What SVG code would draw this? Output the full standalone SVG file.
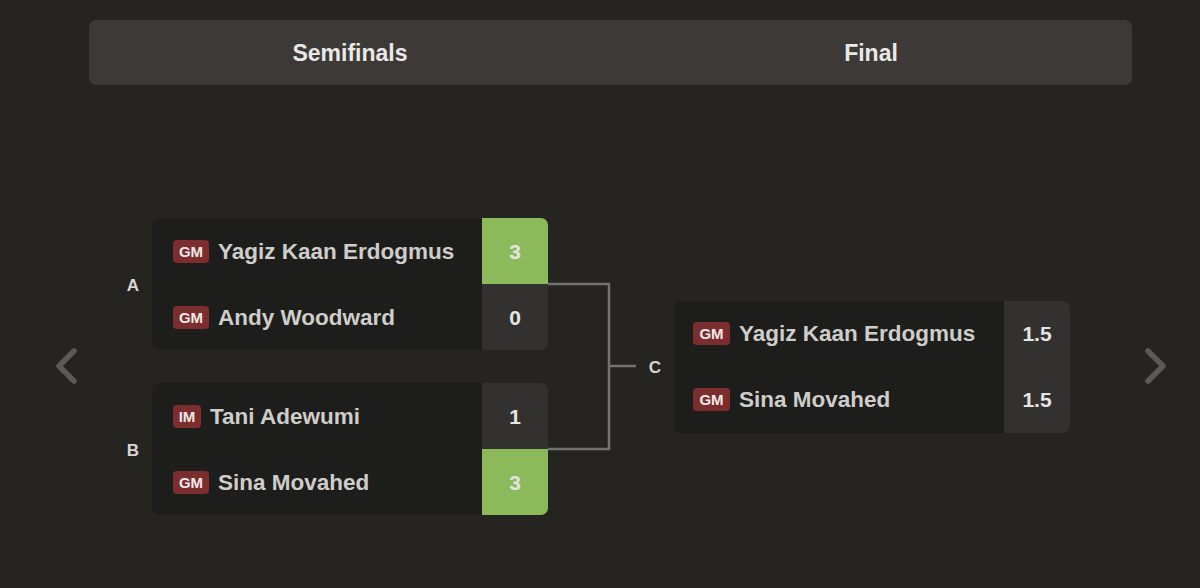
<svg xmlns="http://www.w3.org/2000/svg" width="1200" height="588" viewBox="0 0 1200 588">
<style>
.bg{fill:#262421}
.box{fill:#1d1d1b}
.sc{fill:#32312f}
.win{fill:#8cba5a}
.badge{fill:#7c2d2d}
.bt{font-family:"Liberation Sans",Arial,sans-serif;font-size:15px;font-weight:bold;fill:#f2eaea;text-anchor:middle}
.nm{font-family:"Liberation Sans",Arial,sans-serif;font-size:22.5px;font-weight:bold;fill:#cfcdca}
.num{font-family:"Liberation Sans",Arial,sans-serif;font-size:21px;font-weight:bold;fill:#e6e4e2;text-anchor:middle}
.lbl{font-family:"Liberation Sans",Arial,sans-serif;font-size:17px;font-weight:bold;fill:#d8d6d3;text-anchor:middle}
.hd{font-family:"Liberation Sans",Arial,sans-serif;font-size:23px;font-weight:bold;fill:#ebe9e6;text-anchor:middle}
.conn{fill:none;stroke:#737270;stroke-width:2.5}
.chev{fill:none;stroke:#5b5a58;stroke-width:5.5;stroke-linecap:round;stroke-linejoin:round}
</style>
<rect class="bg" x="0" y="0" width="1200" height="588"/>
<g id="header">
<rect x="89" y="20" width="1043" height="65" rx="7" fill="#3c3936"/>
<text class="hd" x="350" y="61">Semifinals</text>
<text class="hd" x="871" y="61">Final</text>
</g>
<g id="nav-left"><path class="chev" d="M74 351 L59 366 L74 381"/></g>
<g id="nav-right"><path class="chev" d="M1148 351 L1163 366 L1148 381"/></g>
<g id="connectors">
<path class="conn" d="M548 284 H609 V449 H548"/>
<path class="conn" d="M609 366 H636"/>
</g>
<g id="labels">
<text class="lbl" x="133" y="291">A</text>
<text class="lbl" x="133" y="456">B</text>
<text class="lbl" x="655" y="373">C</text>
</g>
<g id="match-A">
<rect class="box" x="152" y="218" width="396" height="132" rx="7"/>
<path class="win" d="M482 218 H541 A7 7 0 0 1 548 225 V284 H482 Z"/>
<path class="sc" d="M482 284 H548 V343 A7 7 0 0 1 541 350 H482 Z"/>
<rect class="badge" x="173" y="240" width="36" height="23" rx="4"/>
<text class="bt" x="191" y="257">GM</text>
<text class="nm" x="218" y="259">Yagiz Kaan Erdogmus</text>
<text class="num" x="515" y="259">3</text>
<rect class="badge" x="173" y="306" width="36" height="23" rx="4"/>
<text class="bt" x="191" y="323">GM</text>
<text class="nm" x="218" y="325">Andy Woodward</text>
<text class="num" x="515" y="325">0</text>
</g>
<g id="match-B">
<rect class="box" x="152" y="383" width="396" height="132" rx="7"/>
<path class="sc" d="M482 383 H541 A7 7 0 0 1 548 390 V449 H482 Z"/>
<path class="win" d="M482 449 H548 V508 A7 7 0 0 1 541 515 H482 Z"/>
<rect class="badge" x="173" y="405" width="28" height="23" rx="4"/>
<text class="bt" x="187" y="422">IM</text>
<text class="nm" x="210" y="424">Tani Adewumi</text>
<text class="num" x="515" y="424">1</text>
<rect class="badge" x="173" y="471" width="36" height="23" rx="4"/>
<text class="bt" x="191" y="488">GM</text>
<text class="nm" x="218" y="490">Sina Movahed</text>
<text class="num" x="515" y="490">3</text>
</g>
<g id="match-C">
<rect class="box" x="674" y="301" width="396" height="132" rx="7"/>
<path class="sc" d="M1004 301 H1063 A7 7 0 0 1 1070 308 V426 A7 7 0 0 1 1063 433 H1004 Z"/>
<rect class="badge" x="693" y="322" width="37" height="23" rx="4"/>
<text class="bt" x="711.5" y="339">GM</text>
<text class="nm" x="739" y="341">Yagiz Kaan Erdogmus</text>
<text class="num" x="1037" y="341">1.5</text>
<rect class="badge" x="693" y="388" width="37" height="23" rx="4"/>
<text class="bt" x="711.5" y="405">GM</text>
<text class="nm" x="739" y="407">Sina Movahed</text>
<text class="num" x="1037" y="407">1.5</text>
</g>
</svg>
